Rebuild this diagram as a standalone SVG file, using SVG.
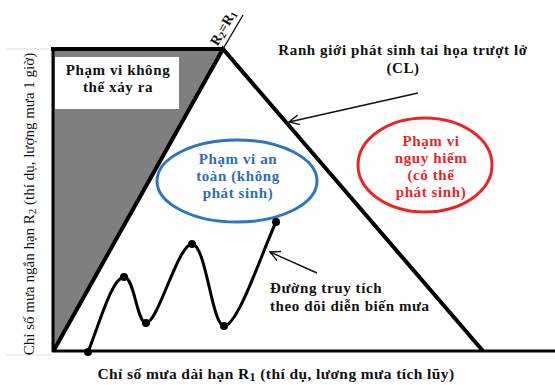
<svg xmlns="http://www.w3.org/2000/svg" width="555" height="385" viewBox="0 0 555 385">
<style>
.t{font-family:"Liberation Serif","Times New Roman",serif;font-weight:bold;font-size:15px;letter-spacing:0.6px;fill:#111}
.c{text-anchor:middle}
.ax{stroke:#000;stroke-width:3;fill:none}
.thick{stroke:#000;stroke-width:4;fill:none;stroke-linejoin:miter}
.thin{stroke:#111;stroke-width:1.4;fill:none}
.blue{fill:#2e6db6}
.red{fill:#e8262a}
</style>
<defs>
<marker id="arr" viewBox="0 0 12 12" refX="11" refY="6" markerWidth="12" markerHeight="12" markerUnits="userSpaceOnUse" orient="auto">
<path d="M1,1 L11,6 L1,11" fill="none" stroke="#111" stroke-width="1.4"/>
</marker>
</defs>
<rect width="555" height="385" fill="#fff"/>
<g id="impossible-region">
<polygon points="53,49 223,49 53,350" fill="#7f7f7f"/>
<rect x="55" y="57" width="124" height="52" fill="#fff"/>
<text class="t c" x="118" y="75">Phạm vi không</text>
<text class="t c" x="118" y="92">thể xảy ra</text>
</g>
<g id="axes">
<line x1="6" y1="49" x2="51" y2="49" stroke="#ddd" stroke-width="1"/>
<line x1="6" y1="355" x2="51" y2="355" stroke="#ddd" stroke-width="1"/>
<line class="ax" x1="53" y1="48" x2="53" y2="352"/>
<line class="ax" x1="52" y1="351" x2="555" y2="351"/>
<text class="t c" style="font-weight:normal;font-size:15px;letter-spacing:0" transform="translate(34,204) rotate(-90)">Chỉ số mưa ngắn hạn R<tspan font-size="11" dy="2">2</tspan><tspan dy="-2"> (thí dụ, lượng mưa 1 giờ)</tspan></text>
<text class="t c" style="font-size:15.5px;letter-spacing:0.4px" x="276" y="379">Chỉ số mưa dài hạn R<tspan font-size="12" dy="2">1</tspan><tspan dy="-2"> (thí dụ, lương mưa tích lũy)</tspan></text>
</g>
<g id="triangle">
<polyline class="thick" points="51,49 223,49"/>
<polyline class="thick" points="54,350 223,49 483,351"/>
<line class="thin" x1="223" y1="49" x2="243" y2="15"/>
<text class="t" style="font-size:14px;letter-spacing:0" text-anchor="middle" transform="translate(227,30) rotate(-60)">R<tspan font-size="10" dy="2">2</tspan><tspan dy="-2">=R</tspan><tspan font-size="10" dy="2">1</tspan></text>
</g>
<g id="cl-label">
<text class="t c" x="403" y="55">Ranh giới phát sinh tai họa trượt lở</text>
<text class="t c" x="403" y="73">(CL)</text>
</g>
<g id="safe-zone">
<ellipse cx="237" cy="181" rx="80" ry="41" fill="none" stroke="#2e75c0" stroke-width="3"/>
<text class="t c blue" x="238" y="164">Phạm vi an</text>
<text class="t c blue" x="238" y="181">toàn (không</text>
<text class="t c blue" x="238" y="198">phát sinh)</text>
</g>
<g id="danger-zone">
<ellipse cx="425" cy="165" rx="67" ry="47" fill="none" stroke="#e8262a" stroke-width="3"/>
<text class="t c red" x="431" y="146">Phạm vi</text>
<text class="t c red" x="431" y="163">nguy hiểm</text>
<text class="t c red" x="431" y="180">(có thể</text>
<text class="t c red" x="431" y="197">phát sinh)</text>
</g>
<g id="trace">
<path d="M88,352 C100,322 112,278 124,277 C134,276 137,323 146,323 C158,323 178,244 192,244 C206,244 212,326 224,326 C238,326 262,252 276,222" fill="none" stroke="#000" stroke-width="3"/>
<g fill="#000">
<circle cx="88" cy="352" r="4"/>
<circle cx="124" cy="277" r="4"/>
<circle cx="146" cy="323" r="4"/>
<circle cx="192" cy="244" r="4"/>
<circle cx="224" cy="326" r="4"/>
<circle cx="276" cy="222" r="4"/>
</g>
<text class="t" x="270" y="293">Đường truy tích</text>
<text class="t" x="270" y="311">theo dõi diễn biến mưa</text>
</g>
<g id="connectors">
<line class="thin" x1="418" y1="93" x2="289" y2="122" marker-end="url(#arr)"/>
<line class="thin" x1="317" y1="273" x2="270" y2="252" marker-end="url(#arr)"/>
</g>
</svg>
